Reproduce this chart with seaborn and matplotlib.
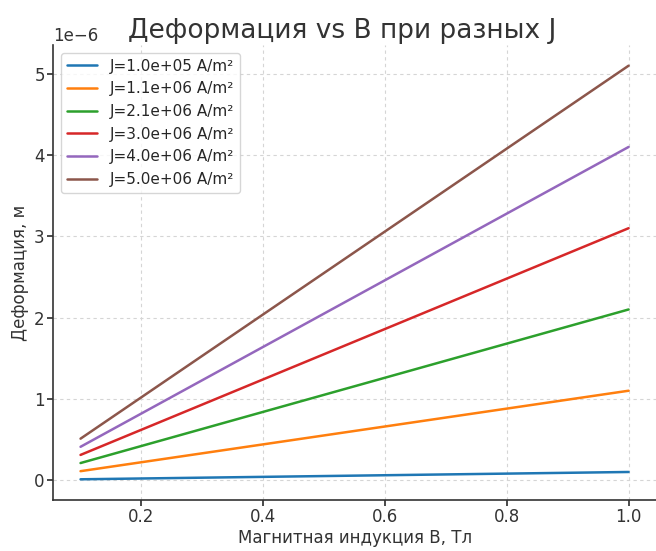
import matplotlib
matplotlib.use("Agg")
import matplotlib.pyplot as plt
import seaborn as sns
import pandas as pd

B_values = [0.1, 1.0]
J_labels = ["J=1.0e+05 A/m²", "J=1.1e+06 A/m²", "J=2.1e+06 A/m²",
            "J=3.0e+06 A/m²", "J=4.0e+06 A/m²", "J=5.0e+06 A/m²"]
deform_start = [0.01e-6, 0.11e-6, 0.21e-6, 0.31e-6, 0.41e-6, 0.51e-6]
deform_end = [0.10e-6, 1.10e-6, 2.10e-6, 3.10e-6, 4.10e-6, 5.10e-6]

rows = []
for lab, s, e in zip(J_labels, deform_start, deform_end):
    rows.append({"B": B_values[0], "D": s, "J": lab})
    rows.append({"B": B_values[1], "D": e, "J": lab})
df = pd.DataFrame(rows)

sns.set_theme(style="ticks")
plt.rcParams['font.family'] = ['DejaVu Sans']

fig = plt.figure(figsize=(6.56, 5.51), dpi=100)
ax = fig.add_axes([0.081, 0.0926, 0.919, 0.8257])
sns.lineplot(data=df, x="B", y="D", hue="J", palette="tab10", linewidth=1.8, ax=ax)

ax.grid(True, linestyle=(0, (3, 3)), color="#d5d5d5", linewidth=0.8)
sns.despine(ax=ax)
for s in ["left", "bottom"]:
    ax.spines[s].set_color("#333333")
    ax.spines[s].set_linewidth(1.2)
ax.tick_params(labelsize=12, colors="#333333", pad=2, length=4)
ax.yaxis.get_offset_text().set_fontsize(12)
ax.set_title("Деформация vs B при разных J", fontsize=19, color="#333333", pad=5,
             x=0.48)
ax.set_xlabel("Магнитная индукция B, Тл", fontsize=12, color="#333333", labelpad=2)
ax.set_ylabel("Деформация, м", fontsize=12, color="#333333", labelpad=4)
leg = ax.legend(loc="upper left", fontsize=11, frameon=True)
leg.set_title(None)

fig.savefig("out.png", dpi=100)
